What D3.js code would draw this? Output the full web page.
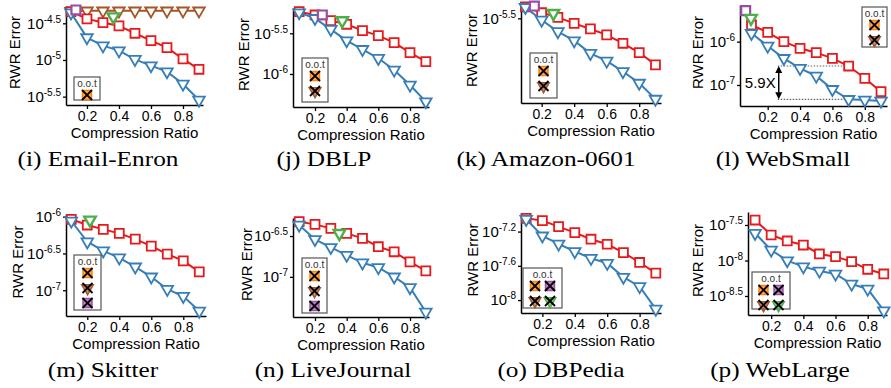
<!DOCTYPE html>
<html><head><meta charset="utf-8">
<script src="https://cdn.jsdelivr.net/npm/d3@7"></script>
<style>body{margin:0;background:#fff}svg{display:block}</style>
</head><body>
<svg id="c" width="891" height="388"></svg>
<script>
// ---------------- data ----------------
const ratios = [0.1,0.2,0.3,0.4,0.5,0.6,0.7,0.8,0.9];
const letters = ["i","j","k","l","m","n","o","p"];
const datasets = ["Email-Enron","DBLP","Amazon-0601","WebSmall","Skitter","LiveJournal","DBPedia","WebLarge"];
const xTickValues = [0.2,0.4,0.6,0.8];
const yTickExponents = [[-4.5,-5,-5.5],[-5.5,-6],[-5.5],[-6,-7],[-6,-6.5,-7],[-6.5,-7],[-7.2,-7.6,-8],[-7.5,-8,-8.5]];
// log10 of RWR error, blue (triangles) method
const blueExp = [
 [-4.355,-4.695,-4.805,-4.873,-4.991,-5.077,-5.159,-5.327,-5.545],
 [-5.246,-5.316,-5.451,-5.590,-5.697,-5.807,-5.951,-6.135,-6.340],
 [-5.441,-5.509,-5.571,-5.620,-5.688,-5.729,-5.786,-5.848,-5.934],
 [-5.808,-6.100,-6.385,-6.615,-6.792,-7.100,-7.331,-7.346,-7.369],
 [-6.059,-6.341,-6.464,-6.559,-6.682,-6.818,-6.986,-7.082,-7.282],
 [-6.365,-6.541,-6.639,-6.734,-6.828,-6.885,-7.000,-7.131,-7.430],
 [-7.056,-7.250,-7.344,-7.433,-7.511,-7.569,-7.732,-7.841,-8.105],
 [-7.617,-7.852,-8.002,-8.087,-8.148,-8.190,-8.331,-8.401,-8.707]];
// log10 of RWR error, red (squares) method
const redExp = [
 [-4.340,-4.440,-4.490,-4.536,-4.636,-4.736,-4.832,-4.986,-5.127],
 [-5.234,-5.275,-5.344,-5.389,-5.467,-5.529,-5.615,-5.738,-5.848],
 [-5.438,-5.470,-5.495,-5.527,-5.557,-5.589,-5.634,-5.684,-5.750],
 [-5.615,-5.785,-6.000,-6.154,-6.254,-6.385,-6.562,-6.846,-7.154],
 [-6.036,-6.114,-6.173,-6.227,-6.305,-6.400,-6.509,-6.600,-6.750],
 [-6.324,-6.357,-6.406,-6.467,-6.529,-6.631,-6.693,-6.816,-6.926],
 [-7.045,-7.072,-7.142,-7.212,-7.289,-7.348,-7.445,-7.561,-7.685],
 [-7.430,-7.641,-7.725,-7.782,-7.908,-7.946,-8.016,-8.124,-8.190]];
// brown (triangles) method, Email-Enron only
const brownExpEnron = [-4.335,-4.33,-4.33,-4.33,-4.33,-4.33,-4.33,-4.33,-4.33];
// single-point methods: [ratio, log10 error]
const purplePoint = [[0.131,-4.318],[0.246,-5.275],[0.155,-5.434],[0.064,-5.285],null,null,null,null];
const greenPoint = [[0.365,-4.41],[0.372,-5.344],[0.272,-5.473],[0.097,-5.46],[0.217,-6.045],[0.354,-6.467],null,null];
// out-of-time methods per panel
const ootMethods = [["orange"],["orange","brown"],["orange","brown"],["orange","brown"],
 ["orange","brown","purple"],["orange","brown","purple"],
 ["orange","purple","brown","green"],["orange","purple","brown","green"]];
const annotationText = "5.9X";
const annotationRatio = 0.7;
const annotationFrom = 0.262;

// ---------------- layout / style ----------------
const layout = [
 {left:66,right:203,top:6,bottom:105, xd:[0.069,0.925], yd:[-5.614,-4.264], titleX:20, lg:{x:74,y:77,w:26,h:23,cols:1}},
 {left:293,right:429,top:8,bottom:107, xd:[0.061,0.92], yd:[-6.406,-5.189], titleX:249, lg:{x:302,y:58,w:26,h:44,cols:1}},
 {left:521,right:661,top:4,bottom:103, xd:[0.073,0.934], yd:[-5.955,-5.423], titleX:477, lg:{x:530,y:53,w:27,h:45,cols:1}},
 {left:740,right:887,top:5,bottom:106, xd:[0.029,0.937], yd:[-7.485,-5.154], titleX:703, lg:{x:862,y:7,w:25,h:40,cols:1}},
 {left:66,right:206,top:214,bottom:316, xd:[0.067,0.942], yd:[-7.35,-5.964], titleX:23, lg:{x:74,y:255,w:27,h:55,cols:1}},
 {left:293,right:429,top:218,bottom:317, xd:[0.061,0.92], yd:[-7.492,-6.279], titleX:252, lg:{x:302,y:258,w:25,h:55,cols:1}},
 {left:521,right:661,top:213,bottom:313, xd:[0.068,0.932], yd:[-8.151,-6.983], titleX:478, lg:{x:523,y:268,w:39,h:40,cols:2}},
 {left:748,right:887,top:212,bottom:315, xd:[0.056,0.92], yd:[-8.768,-7.317], titleX:703, lg:{x:752,y:272,w:38,h:37,cols:2}}
];
const captionX = [98,324,546,783,103,333,561,780];
const captionY = [166,377];
const C = {blue:"#377eb8", red:"#e41a1c", brown:"#a65628", green:"#4daf4a", purple:"#984ea3", orange:"#ff7f00"};
const shapeOf = {orange:"square", purple:"square", brown:"tri", green:"tri"};
const SANS = "Liberation Sans, Arial, sans-serif";

const svg = d3.select("#c");
const sq = d3.symbol(d3.symbolSquare, 80);
const tri = d3.symbol(d3.symbolTriangle, 58);

function marker(g, shape, cx, cy, color, fill, sw) {
  g.append("path").attr("d", shape === "square" ? sq() : tri())
    .attr("transform", `translate(${cx},${cy})` + (shape === "tri" ? " rotate(180)" : ""))
    .attr("fill", fill).attr("stroke", color).attr("stroke-width", sw);
}

layout.forEach((L, p) => {
  const g = svg.append("g");
  const x = d3.scaleLinear().domain(L.xd).range([L.left, L.right]);
  const y = d3.scaleLog().domain([10 ** L.yd[0], 10 ** L.yd[1]]).range([L.bottom, L.top]);

  // axes
  const xa = g.append("g").attr("transform", `translate(0,${L.bottom})`)
    .call(d3.axisBottom(x).tickValues(xTickValues).tickFormat(d3.format(".1f")).tickSize(4).tickSizeOuter(0).tickPadding(2));
  const ya = g.append("g").attr("transform", `translate(${L.left},0)`)
    .call(d3.axisLeft(y).tickValues(yTickExponents[p].map(e => 10 ** e)).tickFormat(() => "").tickSize(3).tickSizeOuter(0).tickPadding(2));
  [xa, ya].forEach(a => {
    a.select(".domain").attr("stroke", "#000").attr("stroke-width", 1.5);
    a.selectAll(".tick line").attr("stroke", "#000").attr("stroke-width", 1.3);
  });
  xa.selectAll(".tick text").attr("font-family", SANS).attr("font-size", 14).attr("fill", "#000");
  ya.selectAll(".tick text").each(function (d) {
    const t = d3.select(this).attr("font-family", SANS).attr("font-size", 15).attr("fill", "#000");
    const e = Math.round(Math.log10(d) * 10) / 10;
    t.text(null);
    t.append("tspan").text("10");
    t.append("tspan").attr("dy", -6).attr("font-size", 10).text(String(e));
  });

  // titles
  g.append("text").attr("x", (L.left + L.right) / 2).attr("y", L.bottom + 33)
    .attr("text-anchor", "middle").attr("font-family", SANS).attr("font-size", 15).text("Compression Ratio");
  g.append("text").attr("transform", `translate(${L.titleX},${(L.top + L.bottom) / 2 - 3}) rotate(-90)`)
    .attr("text-anchor", "middle").attr("font-family", SANS).attr("font-size", 15).text("RWR Error");

  // caption
  const cap = g.append("text").attr("x", captionX[p]).attr("y", captionY[Math.floor(p / 4)])
    .attr("text-anchor", "middle").attr("font-family", "Liberation Serif, Times New Roman, serif")
    .attr("font-size", 22).text(`(${letters[p]}) ${datasets[p]}`);
  const nat = cap.node().getComputedTextLength();
  cap.attr("textLength", nat * 1.15).attr("lengthAdjust", "spacingAndGlyphs");

  const line = d3.line().x(d => x(d[0])).y(d => y(10 ** d[1]));

  // annotation (WebSmall)
  if (p === 3) {
    const i = ratios.indexOf(annotationRatio);
    const yt = y(10 ** redExp[p][i]), yb = y(10 ** blueExp[p][i]);
    [yt, yb].forEach(yy => g.append("line").attr("x1", x(annotationFrom)).attr("x2", x(annotationRatio))
      .attr("y1", yy).attr("y2", yy).attr("stroke", "#666").attr("stroke-width", 1.2).attr("stroke-dasharray", "1.5,1.5"));
    const ax = x(annotationFrom) + 1;
    g.append("line").attr("x1", ax).attr("x2", ax).attr("y1", yt + 3).attr("y2", yb - 3).attr("stroke", "#000").attr("stroke-width", 1.5);
    g.append("path").attr("d", `M${ax},${yt} l-3.5,7 h7 z M${ax},${yb} l-3.5,-7 h7 z`).attr("fill", "#000");
    g.append("text").attr("x", ax - 3).attr("y", (yt + yb) / 2 + 5).attr("text-anchor", "end")
      .attr("font-family", SANS).attr("font-size", 15).text(annotationText);
  }

  // brown line (Email-Enron)
  if (p === 0) {
    const pts = ratios.map((r, i) => [r, brownExpEnron[i]]);
    g.append("path").attr("d", line(pts)).attr("fill", "none").attr("stroke", C.brown).attr("stroke-width", 2);
    pts.forEach(d => marker(g, "tri", x(d[0]), y(10 ** d[1]), C.brown, "#fff", 1.8));
  }

  // red and blue series
  const redPts = ratios.map((r, i) => [r, redExp[p][i]]);
  const bluePts = ratios.map((r, i) => [r, blueExp[p][i]]);
  g.append("path").attr("d", line(redPts)).attr("fill", "none").attr("stroke", C.red).attr("stroke-width", 2);
  redPts.forEach(d => marker(g, "square", x(d[0]), y(10 ** d[1]), C.red, "#fff", 1.8));
  g.append("path").attr("d", line(bluePts)).attr("fill", "none").attr("stroke", C.blue).attr("stroke-width", 2);
  bluePts.forEach(d => marker(g, "tri", x(d[0]), y(10 ** d[1]), C.blue, "#fff", 1.8));

  if (purplePoint[p]) marker(g, "square", x(purplePoint[p][0]), y(10 ** purplePoint[p][1]), C.purple, "#fff", 2.2);
  if (greenPoint[p]) marker(g, "tri", x(greenPoint[p][0]), y(10 ** greenPoint[p][1]), C.green, "#fff", 2.4);

  // o.o.t legend
  const lg = L.lg;
  g.append("rect").attr("x", lg.x).attr("y", lg.y).attr("width", lg.w).attr("height", lg.h)
    .attr("fill", "#fff").attr("stroke", "#555").attr("stroke-width", 1.2);
  g.append("text").attr("x", lg.x + lg.w / 2).attr("y", lg.y + 9.5).attr("text-anchor", "middle")
    .attr("font-family", SANS).attr("font-size", 10).attr("fill", "#333").text("o.o.t");
  ootMethods[p].forEach((m, k) => {
    const r = lg.cols === 2 ? Math.floor(k / 2) : k;
    const c = lg.cols === 2 ? k % 2 : 0;
    const cx = lg.cols === 2 ? lg.x + lg.w / 2 + (c === 0 ? -7.5 : 7.5) : lg.x + lg.w / 2;
    const cy = lg.y + 18 + 15 * r;
    const shp = shapeOf[m];
    g.append("path").attr("d", shp === "square" ? sq() : tri())
      .attr("transform", `translate(${cx},${cy})` + (shp === "tri" ? " rotate(180)" : ""))
      .attr("fill", C[m]).attr("fill-opacity", 0.65).attr("stroke", C[m]).attr("stroke-width", 1.5);
    g.append("path").attr("d", `M${cx - 5},${cy - 5}L${cx + 5},${cy + 5}M${cx + 5},${cy - 5}L${cx - 5},${cy + 5}`)
      .attr("stroke", "#000").attr("stroke-width", 1.8);
  });
});
</script>
</body></html>
